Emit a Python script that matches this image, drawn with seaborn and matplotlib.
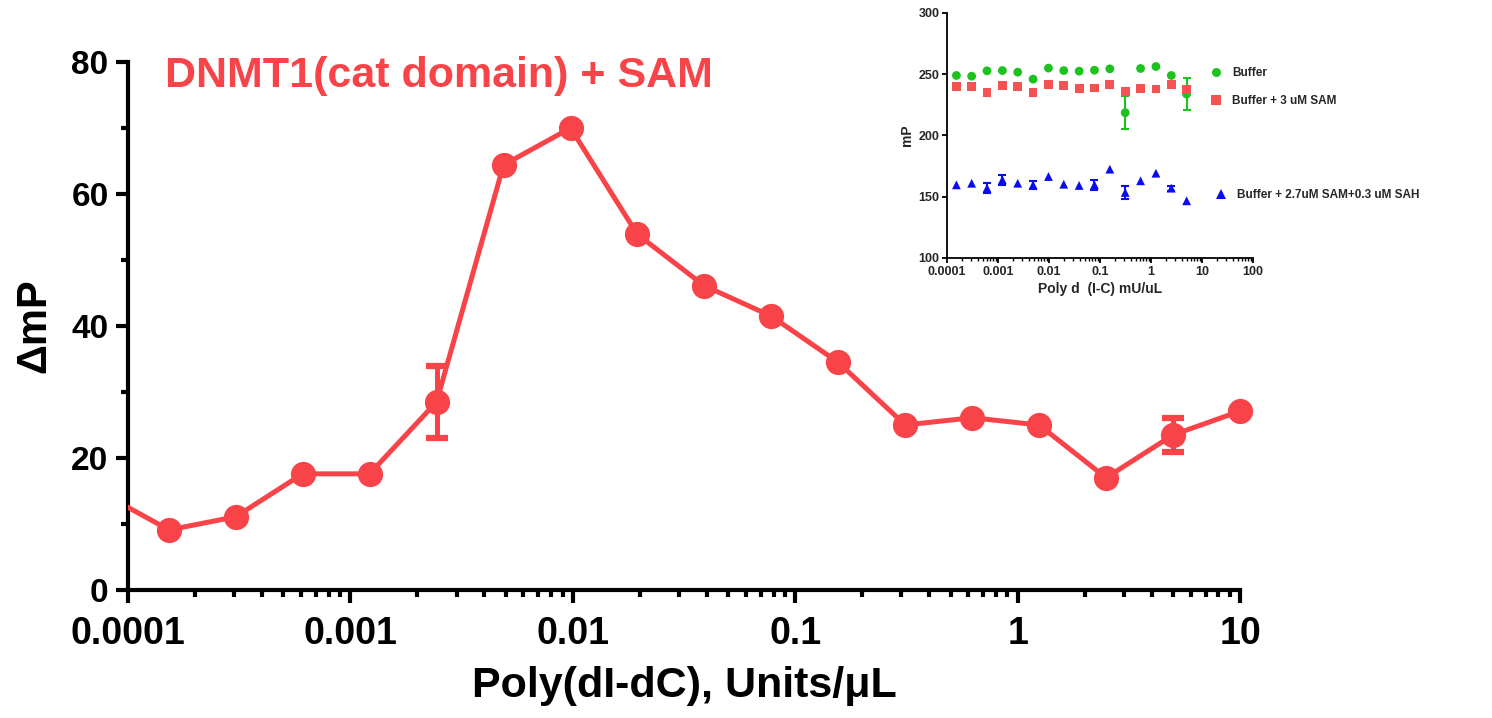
import numpy as np
import pandas as pd
import matplotlib
matplotlib.use("Agg")
import matplotlib.pyplot as plt
from matplotlib.lines import Line2D
from matplotlib.ticker import LogLocator, FixedLocator, NullFormatter, FixedFormatter
import seaborn as sns

# ---------------- data ----------------
# main panel: DNMT1(cat domain) + SAM
conc_main = [7.63e-5, 1.53e-4, 3.05e-4, 6.1e-4, 1.22e-3, 2.44e-3, 4.88e-3, 9.77e-3,
             0.0195, 0.039, 0.078, 0.156, 0.3125, 0.625, 1.25, 2.5, 5.0, 10.0]
dmp = [14.7, 9.1, 11.1, 17.6, 17.6, 28.5, 64.4, 70.0, 53.9, 46.1, 41.5, 34.5,
       25.0, 26.1, 25.0, 17.0, 23.5, 27.1]
dmp_err = [np.nan, np.nan, np.nan, np.nan, np.nan, 5.5, np.nan, np.nan, np.nan, np.nan,
           np.nan, np.nan, np.nan, np.nan, np.nan, np.nan, 2.6, np.nan]

# inset
conc_in = [1.53e-4, 3.05e-4, 6.1e-4, 1.22e-3, 2.44e-3, 4.88e-3, 9.77e-3, 0.0195,
           0.039, 0.078, 0.156, 0.3125, 0.625, 1.25, 2.5, 5.0]
buffer_mp = [249.0, 248.4, 252.8, 253.0, 251.7, 246.0, 255.0, 253.0, 252.5, 253.3,
             254.4, 218.6, 254.7, 256.3, 249.0, 233.8]
buffer_err = [0, 0, 0, 0, 0, 0, 0, 0, 0, 0, 0, 13.6, 0, 0, 0, 13.0]
sam_mp = [240.3, 239.8, 234.9, 240.8, 239.8, 234.9, 241.9, 240.8, 238.4, 238.7,
          241.4, 236.0, 238.4, 237.9, 241.9, 237.6]
sah_mp = [159.7, 161.0, 157.0, 163.8, 161.0, 159.7, 166.5, 160.2, 159.2, 159.7,
          172.5, 153.5, 163.0, 169.2, 157.0, 146.7]
sah_err = [0, 0, 4.0, 4.0, 0, 3.0, 0, 0, 0, 4.0, 0, 5.0, 0, 0, 2.0, 0]

series_names = ["Buffer", "Buffer + 3 uM SAM", "Buffer + 2.7uM SAM+0.3 uM SAH"]

main_ticks = [0.0001, 0.001, 0.01, 0.1, 1, 10]
main_ticklabels = ["0.0001", "0.001", "0.01", "0.1", "1", "10"]
in_ticks = [0.0001, 0.001, 0.01, 0.1, 1, 10, 100]
in_ticklabels = ["0.0001", "0.001", "0.01", "0.1", "1", "10", "100"]

RED = "#F84448"
GREEN = "#1EC21E"
SQRED = "#F55252"
BLUE = "#0B0BF2"

sns.set_theme(style="white")
plt.rcParams["font.family"] = ["Liberation Sans", "DejaVu Sans"]
plt.rcParams["font.weight"] = "bold"

fig = plt.figure(figsize=(14.92, 7.18), dpi=100)

# ---------------- main axes ----------------
ax = fig.add_axes([0.0858, 0.1783, 0.7453, 0.7353])
df_main = pd.DataFrame({"conc": conc_main, "dmp": dmp})
sns.lineplot(data=df_main, x="conc", y="dmp", ax=ax, color=RED, lw=3.6, zorder=3)
ax.set_xscale("log")
ax.set_xlim(1e-4, 10)
ax.set_ylim(0, 80)
df_vis = df_main[df_main["conc"] >= 1e-4]
sns.scatterplot(data=df_vis, x="conc", y="dmp", ax=ax, color=RED, s=330,
                linewidth=0, zorder=4, clip_on=False, legend=False)
mask = ~np.isnan(np.array(dmp_err))
ax.errorbar(np.array(conc_main)[mask], np.array(dmp)[mask], yerr=np.array(dmp_err)[mask],
            fmt="none", ecolor=RED, elinewidth=3.6, capsize=8.0, capthick=4.5, zorder=3)
ax.set_xlim(1e-4, 10)
ax.set_ylim(0, 80)
for s in ["top", "right"]:
    ax.spines[s].set_visible(False)
for s in ["left", "bottom"]:
    ax.spines[s].set_linewidth(3.0)
    ax.spines[s].set_color("black")
ax.xaxis.set_major_locator(FixedLocator(main_ticks))
ax.xaxis.set_major_formatter(FixedFormatter(main_ticklabels))
ax.xaxis.set_minor_locator(LogLocator(base=10, subs=np.arange(2, 10), numticks=20))
ax.xaxis.set_minor_formatter(NullFormatter())
ax.set_yticks([0, 20, 40, 60, 80])
ax.set_yticks([10, 30, 50, 70], minor=True)
ax.tick_params(axis="both", which="major", direction="out", length=9, width=3.0,
               color="black", bottom=True, left=True)
ax.tick_params(axis="both", which="minor", direction="out", length=5, width=3.0,
               color="black", bottom=True, left=True)
ax.tick_params(axis="x", which="major", labelsize=27, pad=10)
ax.tick_params(axis="y", which="major", labelsize=24, pad=5)
for t in ax.get_xticklabels() + ax.get_yticklabels():
    t.set_fontweight("bold")
    t.set_color("black")
ax.set_xlabel("Poly(dI-dC), Units/\u03bcL", fontsize=31, fontweight="bold", labelpad=10, color="black")
ax.set_ylabel("\u0394mP", fontsize=30, fontweight="bold", labelpad=12, color="black")
ax.grid(False)
ax.set_facecolor("white")
fig.text(165 / 1492, 1 - 76 / 718, "DNMT1(cat domain) + SAM", color=RED, fontsize=31,
         fontweight="bold", ha="left", va="center")

# ---------------- inset ----------------
axi = fig.add_axes([0.6347, 0.6407, 0.2051, 0.3412])
df_in = pd.DataFrame({
    "conc": conc_in * 3,
    "mp": buffer_mp + sam_mp + sah_mp,
    "series": [series_names[0]] * 16 + [series_names[1]] * 16 + [series_names[2]] * 16,
})
sns.scatterplot(data=df_in, x="conc", y="mp", hue="series", style="series",
                palette=[GREEN, SQRED, BLUE], markers=["o", "s", "^"],
                s=40, linewidth=0, ax=axi, legend=False, zorder=3)
axi.set_xscale("log")
axi.errorbar(conc_in, buffer_mp, yerr=np.where(np.array(buffer_err) > 0, buffer_err, np.nan),
             fmt="none", ecolor=GREEN, elinewidth=1.5, capsize=3, capthick=1.5, zorder=2)
axi.errorbar(conc_in, sah_mp, yerr=np.where(np.array(sah_err) > 0, sah_err, np.nan),
             fmt="none", ecolor=BLUE, elinewidth=1.5, capsize=3, capthick=1.5, zorder=2)
axi.set_xlim(1e-4, 100)
axi.set_ylim(100, 300)
for s in ["top", "right"]:
    axi.spines[s].set_visible(False)
for s in ["left", "bottom"]:
    axi.spines[s].set_linewidth(1.3)
    axi.spines[s].set_color("black")
axi.xaxis.set_major_locator(FixedLocator(in_ticks))
axi.xaxis.set_major_formatter(FixedFormatter(in_ticklabels))
axi.xaxis.set_minor_locator(LogLocator(base=10, subs=np.arange(2, 10), numticks=20))
axi.xaxis.set_minor_formatter(NullFormatter())
axi.set_yticks([100, 150, 200, 250, 300])
axi.tick_params(axis="both", which="major", direction="out", length=3.5, width=1.3,
                color="black", bottom=True, left=True, labelsize=9, pad=2)
axi.tick_params(axis="x", which="minor", direction="out", length=2, width=1.0,
                color="black", bottom=True)
for t in axi.get_xticklabels() + axi.get_yticklabels():
    t.set_fontweight("bold")
axi.set_xlabel("Poly d  (I-C) mU/uL", fontsize=10, fontweight="bold", labelpad=3)
axi.set_ylabel("mP", fontsize=10, fontweight="bold", labelpad=3)
axi.grid(False)
axi.set_facecolor("white")
axi.patch.set_alpha(0)

# legend entries (positioned as in the reference)
leg_specs = [
    (series_names[0], "o", GREEN, 1210, 73),
    (series_names[1], "s", SQRED, 1210, 101),
    (series_names[2], "^", BLUE, 1215, 195),
]
for name, mk, col, px, py in leg_specs:
    h = Line2D([], [], linestyle="none", marker=mk, color=col, markersize=6.5,
               markeredgewidth=0, label=name)
    lg = fig.legend(handles=[h], loc="center left",
                    bbox_to_anchor=(px / 1492, 1 - py / 718),
                    frameon=False, fontsize=8.5, handlelength=1.0, handletextpad=0.9,
                    borderpad=0, borderaxespad=0)
    for t in lg.get_texts():
        t.set_fontweight("bold")

fig.savefig("out.png", dpi=100, facecolor="white")
